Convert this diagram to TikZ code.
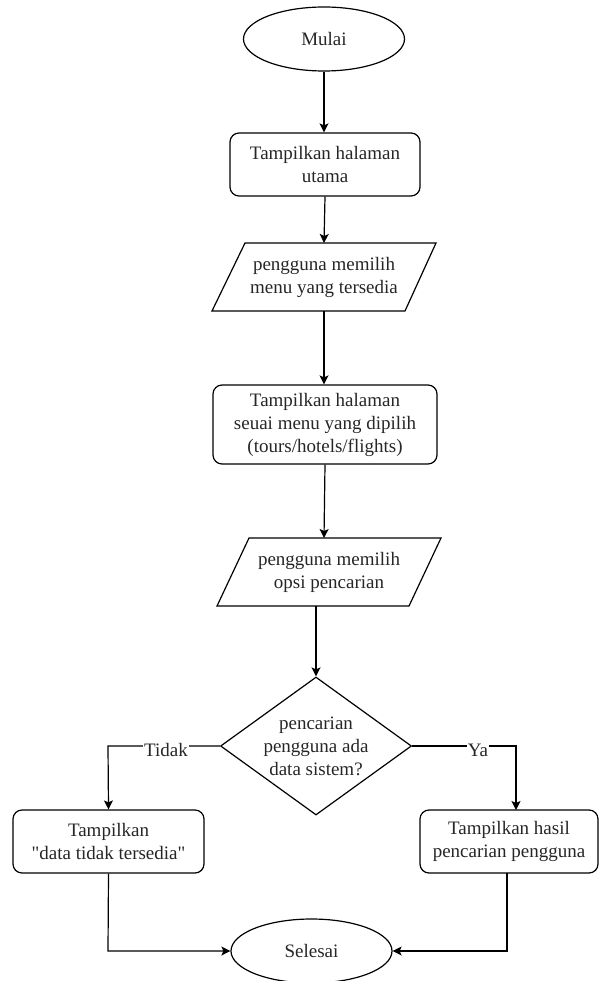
\documentclass[tikz,border=0pt]{standalone}
\usepackage{fontspec}
\setmainfont{Liberation Serif}[Ligatures=TeX]
\newfontfamily\diagfont{Liberation Serif}
\usetikzlibrary{shapes.geometric,arrows.meta}
\begin{document}
\begin{tikzpicture}[x=1pt,y=-1pt,line width=1.2pt,
  every node/.style={font=\diagfont\fontsize{19}{23}\selectfont,align=center,inner sep=0pt,text=black!85},
  term/.style={draw=black,ellipse,minimum width=161pt,minimum height=64pt},
  proc/.style={draw=black,rounded corners=9pt},
  dec/.style={draw=black,diamond,minimum width=191pt,minimum height=138pt,aspect=1.38},
  arr/.style={draw=black,-{Stealth[length=9pt,width=9pt,inset=2pt]}},
  ln/.style={draw=black},
  lbl/.style={fill=white,inner sep=1pt}]
\useasboundingbox (0,0) rectangle (602,981);

% start
\node[term] (mulai) at (324,39) {Mulai};

% process 1
\node[proc,minimum width=190pt,minimum height=63pt] (r1) at (325,164.5) {Tampilkan halaman\\utama};

% input 1 (parallelogram)
\draw[ln] (245,243) -- (436,243) -- (405,311) -- (212,311) -- cycle;
\node (p1) at (324,277) {pengguna memilih\\menu yang tersedia};
\coordinate (p1n) at (324,243);
\coordinate (p1s) at (324,311);

% process 2
\node[proc,minimum width=224pt,minimum height=79pt] (r2) at (325,424.5) {Tampilkan halaman\\seuai menu yang dipilih\\(tours/hotels/flights)};

% input 2 (parallelogram)
\draw[ln] (249,538) -- (441,538) -- (409,606) -- (217,606) -- cycle;
\node (p2) at (329,572) {pengguna memilih\\opsi pencarian};
\coordinate (p2n) at (324,538);
\coordinate (p2s) at (316,606);

% decision
\node[dec] (d) at (316,746) {};
\node (dt) at (316,746) {pencarian\\pengguna ada\\data sistem?};

% left / right results
\node[proc,minimum width=191pt,minimum height=63pt] (rl) at (108.5,841.5) {Tampilkan\\\symbol{34}data tidak tersedia\symbol{34}};
\node[proc,minimum width=178pt,minimum height=63pt] (rr) at (509,841.5) {Tampilkan hasil\\pencarian pengguna};

% end
\node[term] (selesai) at (311.5,951) {Selesai};

% helper coordinates
\coordinate (cl) at (108,746);
\coordinate (cr) at (516,746);
\coordinate (rrn) at (516,810);
\coordinate (rrs) at (507,873);
\coordinate (bl) at (108,951);
\coordinate (br) at (507,951);

% connectors
\draw[arr] (mulai.south) -- (mulai.south |- r1.north);
\draw[arr] (r1.south) -- (p1n);
\draw[arr] (p1s) -- (p1s |- r2.north);
\draw[arr] (r2.south) -- (p2n);
\draw[arr] (p2s) -- (d.north);
\draw[arr] (d.west) -- (cl) -- (rl.north);
\draw[arr] (d.east) -- (cr) -- (rrn);
\draw[arr] (rl.south) -- (bl) -- (selesai.west);
\draw[arr] (rrs) -- (br) -- (selesai.east);

% labels
\node[lbl] (tidak) at (166,750) {Tidak};
\node[lbl] (ya) at (478,750) {Ya};
\end{tikzpicture}
\end{document}
